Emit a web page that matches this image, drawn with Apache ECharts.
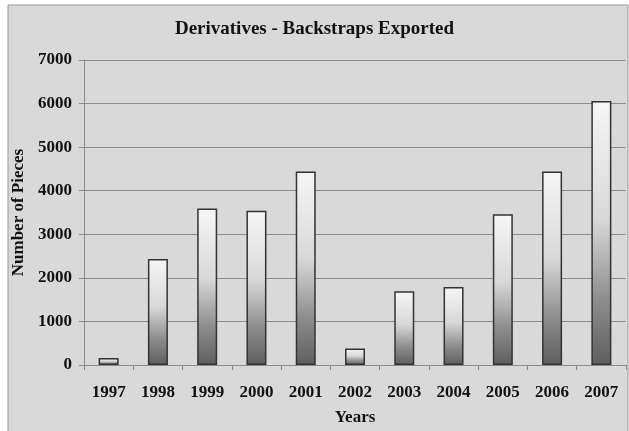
<!DOCTYPE html>
<html>
<head>
<meta charset="utf-8">
<script src="https://cdn.jsdelivr.net/npm/echarts@6/dist/echarts.min.js"></script>
<style>
  html, body { margin: 0; padding: 0; background: #fff; }
  #chart { width: 629px; height: 431px; }
</style>
</head>
<body>
<div id="chart"></div>
<script>
// Backstrap derivatives exported per year
const years = ['1997', '1998', '1999', '2000', '2001', '2002', '2003', '2004', '2005', '2006', '2007'];
const pieces = [160, 2430, 3590, 3540, 4440, 380, 1690, 1790, 3460, 4440, 6060];
const yTicks = { min: 0, max: 7000, interval: 1000 };

const serif = '"Liberation Serif", "Times New Roman", serif';
const chart = echarts.init(document.getElementById('chart'));

chart.setOption({
  backgroundColor: '#ffffff',
  animation: false,
  graphic: [{
    type: 'rect',
    z: -10,
    shape: { x: 8, y: 5, width: 620, height: 432 },
    style: { fill: '#d9d9d9', stroke: '#9a9a9a', lineWidth: 1 }
  }],
  title: {
    text: 'Derivatives - Backstraps Exported',
    left: 'center',
    top: 15,
    textStyle: { fontFamily: serif, fontWeight: 'bold', fontSize: 19, color: '#111' }
  },
  grid: { left: 84, right: 3, top: 60, bottom: 65 },
  xAxis: {
    type: 'category',
    data: years,
    name: 'Years',
    nameLocation: 'middle',
    nameGap: 44,
    nameTextStyle: { fontFamily: serif, fontWeight: 'bold', fontSize: 17, color: '#111' },
    axisLine: { lineStyle: { color: '#8a8a8a' } },
    axisTick: { show: true, length: 5, lineStyle: { color: '#8a8a8a' } },
    axisLabel: { fontFamily: serif, fontWeight: 'bold', fontSize: 17, color: '#111', margin: 19 }
  },
  yAxis: {
    type: 'value',
    min: yTicks.min,
    max: yTicks.max,
    interval: yTicks.interval,
    name: 'Number of Pieces',
    nameLocation: 'middle',
    nameGap: 48,
    nameTextStyle: { fontFamily: serif, fontWeight: 'bold', fontSize: 17, color: '#111' },
    axisLine: { show: true, lineStyle: { color: '#8a8a8a' } },
    axisTick: { show: true, length: 5, lineStyle: { color: '#8a8a8a' } },
    axisLabel: {
      fontFamily: serif, fontWeight: 'bold', fontSize: 17, color: '#111', margin: 12,
      formatter: (v) => String(v)
    },
    splitLine: { lineStyle: { color: '#8c8c8c', width: 1 } }
  },
  series: [{
    type: 'bar',
    data: pieces,
    barWidth: 20,
    itemStyle: {
      borderColor: '#333',
      borderWidth: 1.5,
      color: new echarts.graphic.LinearGradient(0, 0, 0, 1, [
        { offset: 0, color: '#f6f6f6' },
        { offset: 0.45, color: '#d8d8d8' },
        { offset: 0.75, color: '#8e8e8e' },
        { offset: 1, color: '#5e5e5e' }
      ])
    }
  }]
});
</script>
</body>
</html>
